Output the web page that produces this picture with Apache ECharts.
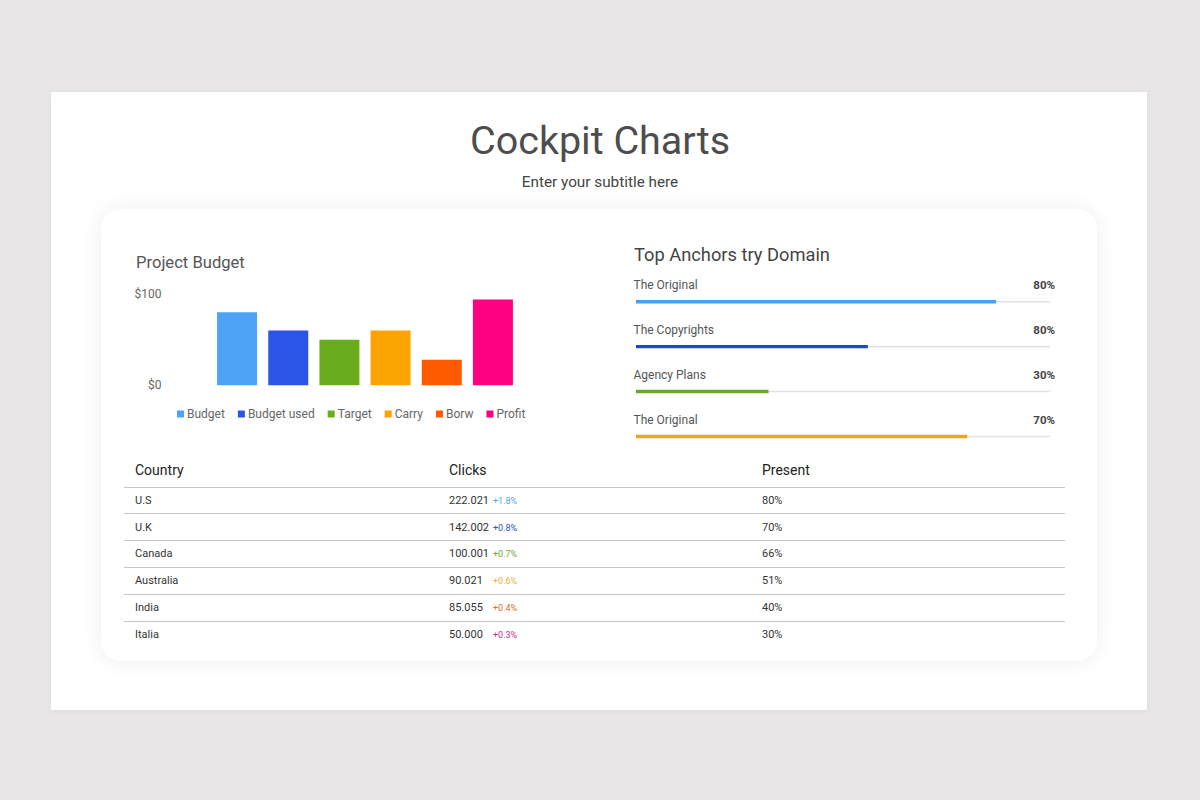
<!DOCTYPE html>
<html>
<head>
<meta charset="utf-8">
<script src="https://cdn.jsdelivr.net/npm/echarts@6/dist/echarts.min.js"></script>
<style>
  html, body { margin: 0; padding: 0; width: 1200px; height: 800px; background: #e8e6e7; overflow: hidden; font-family: Roboto, "Noto Sans", sans-serif; }
  #slide { position: absolute; left: 51px; top: 92px; width: 1096px; height: 618px; background: #fff; box-shadow: 0 1px 6px rgba(0,0,0,0.06); }
  #card { position: absolute; left: 101px; top: 209px; width: 996px; height: 452px; background: #fff; border-radius: 20px; box-shadow: 0 0 22px rgba(0,0,0,0.07); }
  .txt { position: absolute; white-space: nowrap; }
  #title { left: 0; width: 1200px; text-align: center; top: 116px; height: 50px; line-height: 50px; font-size: 39.5px; color: #4d4d4d; }
  #subtitle { left: 0; width: 1200px; text-align: center; top: 172px; height: 20px; line-height: 20px; font-size: 15.3px; color: #444; }
  #pbTitle { left: 136px; top: 252px; height: 22px; line-height: 22px; font-size: 16.6px; color: #555; }
  #taTitle { left: 634px; top: 244px; height: 22px; line-height: 22px; font-size: 18.3px; color: #444; }
  #chart { position: absolute; left: 0; top: 0; width: 1200px; height: 800px; }
  .hline { position: absolute; left: 124px; width: 941px; height: 0; border-top: 1.5px solid #c6c6c6; }
  .hd { font-size: 14px; color: #222; height: 20px; line-height: 20px; }
  .cell { font-size: 11px; color: #333; height: 16px; line-height: 16px; }
  .chg { font-size: 9px; height: 16px; line-height: 16px; }
</style>
</head>
<body>
<div id="slide"></div>
<div id="card"></div>
<div id="title" class="txt">Cockpit Charts</div>
<div id="subtitle" class="txt">Enter your subtitle here</div>
<div id="pbTitle" class="txt">Project Budget</div>
<div id="taTitle" class="txt">Top Anchors try Domain</div>
<div id="table"></div>
<div id="chart"></div>
<script>
// ---- Data ----
const barCategories = ['Budget', 'Budget used', 'Target', 'Carry', 'Borw', 'Profit'];
const barValues = [80, 60, 50, 60, 28, 94];
const barColors = ['#4da3f8', '#2a55e6', '#6aad1c', '#fca402', '#fe5a00', '#fe0082'];
const yTickValues = [0, 100];

const anchorNames = ['The Original', 'The Copyrights', 'Agency Plans', 'The Original'];
const anchorFill = [87, 56, 32, 80];
const anchorLabels = ['80%', '80%', '30%', '70%'];
const anchorColors = ['#4a9ff2', '#1f47c9', '#6aa82a', '#f0a51c'];
const anchorTrackMax = 100;

const tableHeaders = ['Country', 'Clicks', 'Present'];
const countries = ['U.S', 'U.K', 'Canada', 'Australia', 'India', 'Italia'];
const clicks = ['222.021', '142.002', '100.001', '90.021', '85.055', '50.000'];
const changes = ['+1.8%', '+0.8%', '+0.7%', '+0.6%', '+0.4%', '+0.3%'];
const changeColors = ['#5ba6e6', '#2c4fd0', '#6aab2e', '#eeb234', '#e6692a', '#d42a7c'];
const presents = ['80%', '70%', '66%', '51%', '40%', '30%'];

// ---- Table (HTML) ----
(function buildTable() {
  const t = document.getElementById('table');
  const colX = [135, 449, 762];
  let html = '';
  tableHeaders.forEach((h, i) => {
    html += '<div class="txt hd" style="left:' + colX[i] + 'px;top:460px">' + h + '</div>';
  });
  const lineY0 = 487.3, rowH = 26.87;
  html += '<div class="hline" style="top:' + (lineY0 - 0.75) + 'px"></div>';
  countries.forEach((c, r) => {
    const cy = lineY0 + 13.4 + r * rowH;
    const top = cy - 8;
    html += '<div class="txt cell" style="left:' + colX[0] + 'px;top:' + top + 'px">' + c + '</div>';
    html += '<div class="txt cell" style="left:' + colX[1] + 'px;top:' + top + 'px">' + clicks[r] + '</div>';
    html += '<div class="txt chg" style="left:493px;top:' + top + 'px;color:' + changeColors[r] + '">' + changes[r] + '</div>';
    html += '<div class="txt cell" style="left:' + colX[2] + 'px;top:' + top + 'px">' + presents[r] + '</div>';
    if (r < countries.length - 1) {
      html += '<div class="hline" style="top:' + (lineY0 + (r + 1) * rowH - 0.75) + 'px"></div>';
    }
  });
  t.innerHTML = html;
})();

// ---- Charts (ECharts) ----
const chart = echarts.init(document.getElementById('chart'), null, { renderer: 'svg' });

const barSeries = barCategories.map((name, i) => ({
  name: name,
  type: 'bar',
  stack: 'budget',
  xAxisIndex: 0,
  yAxisIndex: 0,
  barWidth: 40,
  itemStyle: { color: barColors[i] },
  data: barValues.map((v, j) => (j === i ? v : '-')),
  silent: true
}));

const hiddenCat = (data) => ({
  type: 'category', gridIndex: 1, inverse: true, data: data,
  axisLine: { show: false }, axisTick: { show: false }, splitLine: { show: false }, axisLabel: { show: false }
});

const option = {
  animation: false,
  textStyle: { fontFamily: 'Roboto' },
  legend: {
    data: barCategories,
    left: 177,
    top: 407,
    padding: 0,
    itemWidth: 7,
    itemHeight: 7,
    itemGap: 13,
    icon: 'rect',
    textStyle: { color: '#666', fontSize: 12, fontFamily: 'Roboto', lineHeight: 14, padding: [0, 0, 0, -2] },
    selectedMode: false
  },
  grid: [
    { left: 211.5, top: 294, width: 307, height: 91.3 },
    { left: 636, top: 279.3, width: 414, height: 179.6 }
  ],
  xAxis: [
    { type: 'category', gridIndex: 0, data: barCategories, show: false },
    { type: 'value', gridIndex: 1, min: 0, max: anchorTrackMax, show: false }
  ],
  yAxis: [
    {
      type: 'value', gridIndex: 0,
      min: yTickValues[0], max: yTickValues[yTickValues.length - 1],
      interval: yTickValues[1] - yTickValues[0],
      axisLine: { show: false }, axisTick: { show: false }, splitLine: { show: false },
      axisLabel: { margin: 50, color: '#666', fontSize: 12, fontFamily: 'Roboto', formatter: v => '$' + v }
    },
    hiddenCat(anchorNames),
    hiddenCat(anchorNames),
    hiddenCat(anchorLabels)
  ],
  series: barSeries.concat([
    {
      type: 'bar', xAxisIndex: 1, yAxisIndex: 1, barWidth: 1.6, z: 1, silent: true,
      itemStyle: { color: '#e2e2e2' },
      label: {
        show: true, position: [-2.5, -15.7], align: 'left', verticalAlign: 'middle',
        color: '#555', fontSize: 12, fontFamily: 'Roboto',
        formatter: p => anchorNames[p.dataIndex]
      },
      data: anchorNames.map(() => anchorTrackMax)
    },
    {
      type: 'bar', xAxisIndex: 1, yAxisIndex: 2, barWidth: 3.4, z: 3, silent: true,
      data: anchorFill.map((v, i) => ({ value: v, itemStyle: { color: anchorColors[i] } }))
    },
    {
      type: 'bar', xAxisIndex: 1, yAxisIndex: 3, barWidth: 1, z: 0, silent: true,
      itemStyle: { color: 'rgba(0,0,0,0)' },
      label: {
        show: true, position: ['100%', -16], offset: [5, 0], align: 'right', verticalAlign: 'middle',
        color: '#444', fontSize: 11.5, fontWeight: 'bold', fontFamily: 'Roboto',
        formatter: p => anchorLabels[p.dataIndex]
      },
      data: anchorLabels.map(() => anchorTrackMax)
    }
  ])
};
chart.setOption(option);
</script>
</body>
</html>
